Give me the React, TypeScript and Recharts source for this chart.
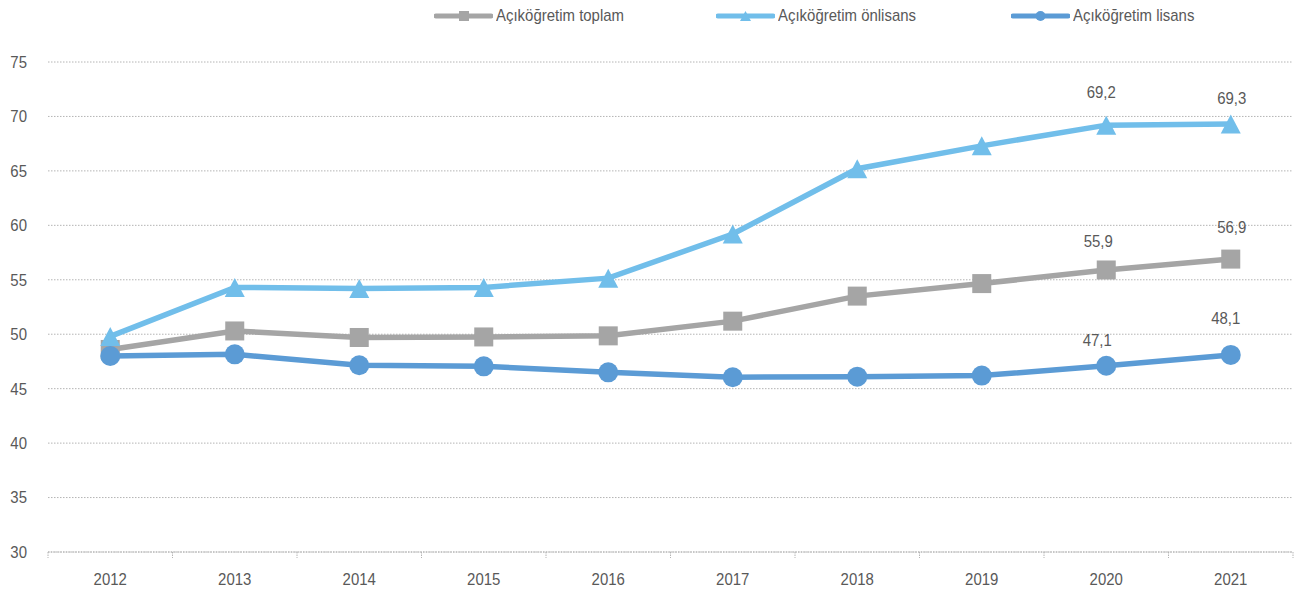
import React from 'react';
import { LineChart, Line, XAxis, YAxis, CartesianGrid } from 'recharts';

const years = ['2012', '2013', '2014', '2015', '2016', '2017', '2018', '2019', '2020', '2021'];
const toplam = [48.6, 50.3, 49.7, 49.75, 49.85, 51.2, 53.5, 54.65, 55.9, 56.9];
const onlisans = [49.8, 54.3, 54.2, 54.3, 55.15, 59.2, 65.2, 67.3, 69.2, 69.3];
const lisans = [48.0, 48.15, 47.15, 47.05, 46.5, 46.05, 46.1, 46.2, 47.1, 48.1];
const yTicks = [30, 35, 40, 45, 50, 55, 60, 65, 70, 75];
const seriesNames = ['Açıköğretim toplam', 'Açıköğretim önlisans', 'Açıköğretim lisans'];

const data = years.map((y, i) => ({ year: y, toplam: toplam[i], onlisans: onlisans[i], lisans: lisans[i] }));

const FONT = "'Liberation Sans', Arial, sans-serif";
const TEXT = '#595959';
const GRAY = '#A5A5A5';
const LIGHT = '#71BEEA';
const BLUE = '#5B9BD5';
const GRID = '#B4B4B4';
const W = 1298;
const H = 595;
const M = { top: 62, right: 5, bottom: 0, left: 0 };
const Y_W = 48;
const X_H = 43;
const BAND = (W - M.left - M.right - Y_W) / years.length;
const SX = 0.88;
const FS = 17;

const LABEL_OFFSETS: Record<string, Array<[number, number]>> = {
  toplam: [[-8, -29], [1, -32]],
  onlisans: [[-5, -33], [1, -26]],
  lisans: [[-9, -26], [-5, -37]],
};

const fmt = (v: number) => v.toFixed(1).replace('.', ',');

const NarrowText = ({ x, y, anchor, children, baseline }: any) => (
  <text
    transform={`translate(${x},${y}) scale(${SX},1)`}
    x={0}
    y={0}
    textAnchor={anchor}
    dominantBaseline={baseline || 'auto'}
    fill={TEXT}
    fontSize={FS}
    fontFamily={FONT}
  >
    {children}
  </text>
);

const makeLabel = (key: string) => (props: any) => {
  const { x, y, value, index } = props;
  const k = index - (years.length - 2);
  if (k < 0) return null;
  const [dx, dy] = LABEL_OFFSETS[key][k];
  return (
    <NarrowText key={`${key}${index}`} x={x + dx} y={y + dy} anchor="middle" baseline="central">
      {fmt(value)}
    </NarrowText>
  );
};

const SquareDot = (props: any) => {
  const { cx, cy, index } = props;
  return <rect key={`s${index}`} x={cx - 9.5} y={cy - 9.5} width={19} height={19} fill={GRAY} />;
};
const TriDot = (props: any) => {
  const { cx, cy, index } = props;
  return <polygon key={`t${index}`} points={`${cx},${cy - 9.5} ${cx + 10},${cy + 9.5} ${cx - 10},${cy + 9.5}`} fill={LIGHT} />;
};
const CircleDot = (props: any) => {
  const { cx, cy, index } = props;
  return <circle key={`c${index}`} cx={cx} cy={cy} r={10} fill={BLUE} />;
};

const XTick = (props: any) => {
  const { x, y, payload, index } = props;
  const left = x - BAND / 2;
  return (
    <g>
      <line x1={left} y1={y} x2={left} y2={y + 6} stroke={GRID} strokeDasharray="1.5 1" />
      {index === years.length - 1 && (
        <line x1={x + BAND / 2} y1={y} x2={x + BAND / 2} y2={y + 6} stroke={GRID} strokeDasharray="1.5 1" />
      )}
      <NarrowText x={x} y={y + 33} anchor="middle">
        {payload.value}
      </NarrowText>
    </g>
  );
};

const YTick = (props: any) => {
  const { x, y, payload } = props;
  return (
    <NarrowText x={x} y={y} anchor="end" baseline="central">
      {payload.value}
    </NarrowText>
  );
};

const LegendIcon = ({ color, shape }: { color: string; shape: string }) => (
  <svg width={59} height={14} style={{ display: 'block' }}>
    <line x1={2} y1={7} x2={57} y2={7} stroke={color} strokeWidth={5} strokeLinecap="round" />
    {shape === 'square' && <rect x={25} y={2} width={10} height={10} fill={color} />}
    {shape === 'triangle' && <polygon points="29.5,2 35,12 24,12" fill={color} />}
    {shape === 'circle' && <circle cx={29.5} cy={7} r={5} fill={color} />}
  </svg>
);

const legendItems = [
  { name: seriesNames[0], color: GRAY, shape: 'square', left: 434 },
  { name: seriesNames[1], color: LIGHT, shape: 'triangle', left: 716 },
  { name: seriesNames[2], color: BLUE, shape: 'circle', left: 1011 },
];

export default function App() {
  return (
    <div style={{ position: 'absolute', left: 0, top: 0, width: W, height: H, background: '#fff', fontFamily: FONT }}>
      {legendItems.map((it) => (
        <div
          key={it.name}
          style={{ position: 'absolute', left: it.left, top: 6, height: 20, display: 'flex', alignItems: 'center', gap: 3 }}
        >
          <LegendIcon color={it.color} shape={it.shape} />
          <span
            style={{
              fontSize: FS,
              color: TEXT,
              whiteSpace: 'nowrap',
              lineHeight: '20px',
              display: 'inline-block',
              transform: `scaleX(${SX})`,
              transformOrigin: 'left center',
            }}
          >
            {it.name}
          </span>
        </div>
      ))}
      <LineChart width={W} height={H} data={data} margin={M}>
        <CartesianGrid vertical={false} stroke={GRID} strokeDasharray="1.5 1.5" />
        <XAxis
          dataKey="year"
          scale="band"
          height={X_H}
          axisLine={{ stroke: GRID, strokeDasharray: '1.5 1' }}
          tickLine={false}
          tickSize={0}
          tickMargin={0}
          tick={<XTick />}
          interval={0}
        />
        <YAxis
          width={Y_W}
          domain={[30, 75]}
          ticks={yTicks}
          axisLine={false}
          tickLine={false}
          tickSize={0}
          tickMargin={21}
          tick={<YTick />}
        />
        <Line
          type="linear"
          dataKey="toplam"
          name={seriesNames[0]}
          stroke={GRAY}
          strokeWidth={5.5}
          dot={SquareDot}
          activeDot={false}
          label={makeLabel('toplam')}
          isAnimationActive={false}
        />
        <Line
          type="linear"
          dataKey="onlisans"
          name={seriesNames[1]}
          stroke={LIGHT}
          strokeWidth={5.5}
          dot={TriDot}
          activeDot={false}
          label={makeLabel('onlisans')}
          isAnimationActive={false}
        />
        <Line
          type="linear"
          dataKey="lisans"
          name={seriesNames[2]}
          stroke={BLUE}
          strokeWidth={5.5}
          dot={CircleDot}
          activeDot={false}
          label={makeLabel('lisans')}
          isAnimationActive={false}
        />
      </LineChart>
    </div>
  );
}
